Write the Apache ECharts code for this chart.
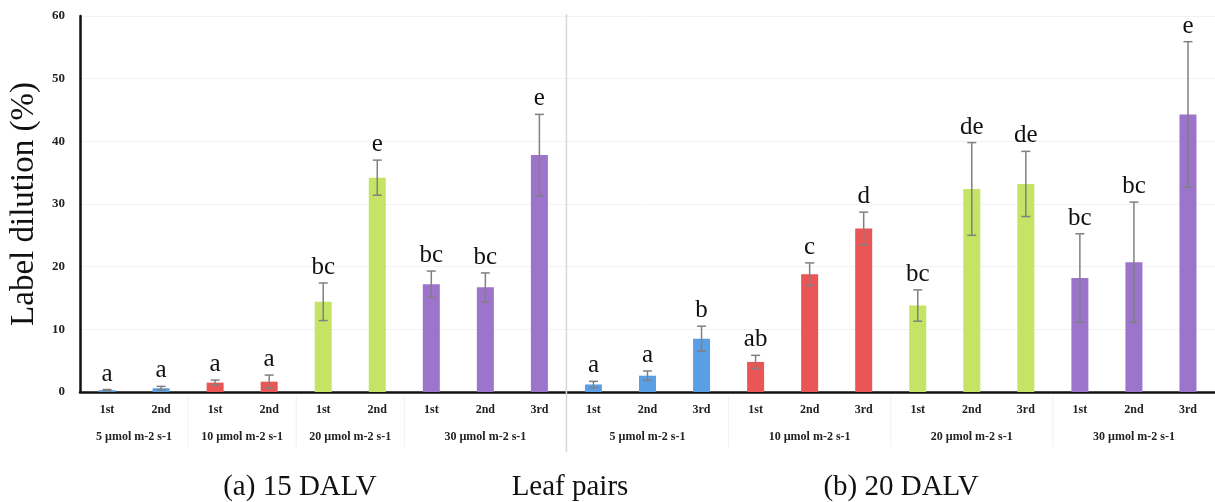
<!DOCTYPE html>
<html>
<head>
<meta charset="utf-8">
<script src="https://cdn.jsdelivr.net/npm/echarts@6/dist/echarts.min.js"></script>
<style>
    html, body { margin: 0; padding: 0; background: #fff; }
    #chart { width: 1215px; height: 502px; }
</style>
</head>
<body>
<div id="chart"></div>
<script>
// leaf pair per bar, (a) 15 DALV then (b) 20 DALV
const leafPairs = ['1st', '2nd', '1st', '2nd', '1st', '2nd', '1st', '2nd', '3rd',
    '1st', '2nd', '3rd', '1st', '2nd', '3rd', '1st', '2nd', '3rd', '1st', '2nd', '3rd'];
// light level of each bar (µmol m-2 s-1)
const lightLevel = [5, 5, 10, 10, 20, 20, 30, 30, 30,
    5, 5, 5, 10, 10, 10, 20, 20, 20, 30, 30, 30];
const dilution = [0.3, 0.6, 1.5, 1.65, 14.4, 34.2, 17.2, 16.7, 37.8,
    1.2, 2.6, 8.5, 4.8, 18.8, 26.1, 13.8, 32.4, 33.2, 18.2, 20.7, 44.3];
const errors = [0.1, 0.3, 0.4, 1.05, 3.0, 2.8, 2.1, 2.3, 6.5,
    0.5, 0.75, 2.0, 1.05, 1.8, 2.6, 2.5, 7.4, 5.2, 7.05, 9.6, 11.6];
const letters = ['a', 'a', 'a', 'a', 'bc', 'e', 'bc', 'bc', 'e',
    'a', 'a', 'b', 'ab', 'c', 'd', 'bc', 'de', 'de', 'bc', 'bc', 'e'];
// groups under the axis: first bar index and bar count
const groupLabels = ['5 µmol m-2 s-1', '10 µmol m-2 s-1', '20 µmol m-2 s-1', '30 µmol m-2 s-1',
    '5 µmol m-2 s-1', '10 µmol m-2 s-1', '20 µmol m-2 s-1', '30 µmol m-2 s-1'];
const groupStart = [0, 2, 4, 6, 9, 12, 15, 18];
const groupSize = [2, 2, 2, 3, 3, 3, 3, 3];
const yTicks = [0, 10, 20, 30, 40, 50, 60];

const levelColor = { 5: '#5a9fe6', 10: '#ea5555', 20: '#c5e465', 30: '#9d74cb' };
const serif = '"Liberation Serif", "DejaVu Serif", serif';

const chart = echarts.init(document.getElementById('chart'));

const option = {
    animation: false,
    grid: { left: 80, top: 16, right: -3, bottom: 110, containLabel: false },
    xAxis: {
        type: 'category',
        data: leafPairs,
        axisLine: { lineStyle: { color: '#111', width: 2.5 } },
        axisTick: { show: false },
        axisLabel: {
            interval: 0,
            margin: 12,
            fontFamily: serif,
            fontWeight: 'bold',
            fontSize: 12,
            color: '#222',
        },
    },
    yAxis: {
        type: 'value',
        min: yTicks[0],
        max: yTicks[yTicks.length - 1],
        interval: 10,
        name: 'Label dilution (%)',
        nameLocation: 'middle',
        nameGap: 34,
        nameTextStyle: { fontFamily: serif, fontSize: 33, color: '#111' },
        axisLine: { show: true, lineStyle: { color: '#111', width: 2.5 } },
        axisTick: { show: false },
        axisLabel: {
            margin: 15,
            fontFamily: serif,
            fontWeight: 'bold',
            fontSize: 13,
            color: '#222',
        },
        splitLine: { lineStyle: { color: '#f2f2f2', width: 1 } },
    },
    series: [
        {
            type: 'bar',
            barWidth: 17,
            data: dilution.map((v, i) => ({
                value: v,
                itemStyle: { color: levelColor[lightLevel[i]] },
            })),
        },
        {
            // error bars and significance letters
            type: 'custom',
            clip: false,
            z: 5,
            data: dilution.map((v, i) => [i, v, errors[i]]),
            renderItem: (params, api) => {
                const i = api.value(0),
                    v = api.value(1),
                    e = api.value(2),
                    top = api.coord([i, v + e]),
                    bottom = api.coord([i, Math.max(v - e, 0)]),
                    half = 4.5,
                    style = { stroke: '#808080', lineWidth: 1.5 };
                return {
                    type: 'group',
                    children: [
                        { type: 'line', shape: { x1: top[0], y1: top[1], x2: bottom[0], y2: bottom[1] }, style },
                        { type: 'line', shape: { x1: top[0] - half, y1: top[1], x2: top[0] + half, y2: top[1] }, style },
                        { type: 'line', shape: { x1: bottom[0] - half, y1: bottom[1], x2: bottom[0] + half, y2: bottom[1] }, style },
                        {
                            type: 'text',
                            style: {
                                text: letters[params.dataIndex],
                                x: top[0],
                                y: top[1] - 3,
                                align: 'center',
                                verticalAlign: 'bottom',
                                fontFamily: serif,
                                fontSize: 25,
                                fill: '#111',
                            },
                        },
                    ],
                };
            },
        },
        {
            // group labels and separators under the axis
            type: 'custom',
            clip: false,
            silent: true,
            data: groupStart.map((s, g) => [s, groupSize[g]]),
            renderItem: (params, api) => {
                const s = api.value(0),
                    n = api.value(1),
                    band = api.size([1, 0])[0],
                    p0 = api.coord([s, 0]),
                    left = p0[0] - band / 2,
                    cx = left + (n * band) / 2,
                    children = [
                        {
                            type: 'text',
                            style: {
                                text: groupLabels[params.dataIndex],
                                x: cx,
                                y: p0[1] + 45,
                                align: 'center',
                                verticalAlign: 'middle',
                                fontFamily: serif,
                                fontWeight: 'bold',
                                fontSize: 12,
                                fill: '#222',
                            },
                        },
                    ];
                if (s > 0) {
                    const big = s === 9;
                    children.push({
                        type: 'line',
                        shape: {
                            x1: left,
                            y1: big ? api.coord([s, 60])[1] - 2 : p0[1] + 3,
                            x2: left,
                            y2: p0[1] + (big ? 60 : 55),
                        },
                        style: { stroke: big ? '#d6d6d6' : '#f0f0f0', lineWidth: big ? 1.5 : 1 },
                    });
                }
                return { type: 'group', children };
            },
        },
    ],
    graphic: [
        {
            type: 'text',
            x: 300,
            y: 487,
            style: { text: '(a) 15 DALV', align: 'center', verticalAlign: 'middle', fontFamily: serif, fontSize: 29, fill: '#111' },
        },
        {
            type: 'text',
            x: 570,
            y: 487,
            style: { text: 'Leaf pairs', align: 'center', verticalAlign: 'middle', fontFamily: serif, fontSize: 29, fill: '#111' },
        },
        {
            type: 'text',
            x: 901,
            y: 487,
            style: { text: '(b) 20 DALV', align: 'center', verticalAlign: 'middle', fontFamily: serif, fontSize: 29, fill: '#111' },
        },
    ],
};

chart.setOption(option);
</script>
</body>
</html>
